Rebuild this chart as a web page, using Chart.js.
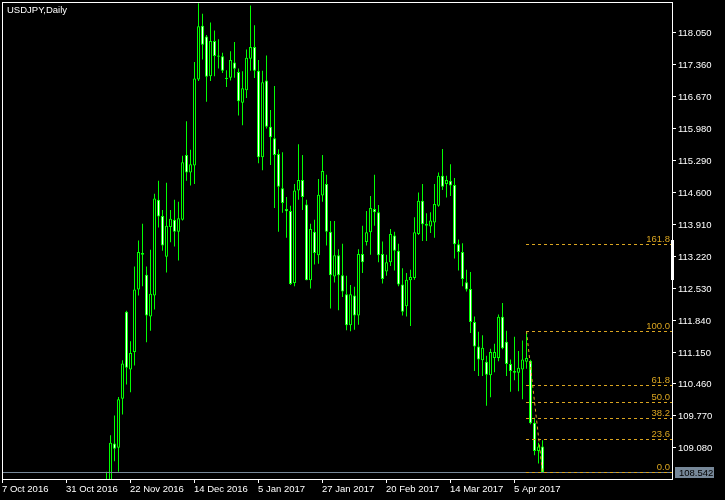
<!DOCTYPE html>
<html>
<head>
<meta charset="utf-8">
<title>USDJPY,Daily</title>
<script src="https://cdn.jsdelivr.net/npm/chart.js@4.4.1/dist/chart.umd.min.js"></script>
<style>
  html, body { margin: 0; padding: 0; background: #000; }
  canvas { display: block; }
</style>
</head>
<body>
<canvas id="chart" width="725" height="500"></canvas>
<script>
// Chart data
const symbolTitle = 'USDJPY,Daily';
const firstBar = 26; // bars counted from 7 Oct 2016; earlier bars sit below the visible range

const openPrices = [
  106.70, 108.30, 109.16, 109.07, 110.13, 112.01, 110.76, 111.14, 112.49, 113.28,
  112.81, 111.91, 112.36, 114.43, 114.08, 113.20, 113.84, 114.00, 113.74, 114.00,
  115.40, 115.02, 115.17, 117.03, 118.19, 117.96, 117.10, 117.86, 117.55, 117.53,
  117.04, 117.07, 117.40, 117.19, 116.53, 116.80, 117.48, 117.73, 117.22, 115.35,
  117.01, 116.01, 115.76, 115.42, 114.68, 114.23, 114.19, 112.63, 114.63, 114.86,
  114.33, 112.69, 113.74, 113.23, 114.52, 114.77, 113.74, 112.77, 113.23, 112.80,
  112.39, 111.72, 112.36, 111.93, 113.26, 113.52, 113.73, 114.23, 114.16, 113.26,
  112.88, 113.08, 113.66, 113.33, 112.60, 112.13, 112.69, 112.74, 113.69, 114.41,
  113.91, 113.85, 113.94, 114.30, 114.95, 114.77, 114.84, 114.75, 113.47, 113.30,
  112.65, 112.50, 111.79, 111.26, 110.96, 110.93, 110.64, 111.01, 111.01, 111.90,
  111.36, 110.88, 110.69, 110.69, 110.76, 110.93, 110.95, 109.61, 109.00, 109.10
];
const highPrices = [
  108.55, 109.34, 109.77, 110.17, 110.96, 112.03, 111.37, 112.99, 113.55, 113.91,
  112.99, 113.35, 114.56, 114.84, 114.21, 114.80, 114.21, 114.43, 114.39, 115.38,
  116.13, 115.51, 117.41, 118.68, 118.45, 117.99, 118.26, 118.09, 117.90, 117.61,
  117.23, 117.64, 117.84, 117.27, 117.21, 117.68, 118.63, 118.20, 117.45, 117.22,
  117.55, 116.37, 116.89, 115.52, 115.46, 114.49, 114.30, 114.77, 115.63, 115.40,
  114.43, 113.91, 114.00, 114.88, 115.40, 114.97, 113.97, 113.97, 113.36, 113.48,
  112.79, 112.59, 112.55, 113.36, 113.87, 114.19, 114.51, 114.97, 114.32, 113.53,
  113.24, 113.80, 113.74, 113.48, 112.95, 112.85, 112.92, 114.05, 114.59, 114.77,
  114.14, 114.16, 114.77, 115.02, 115.53, 114.95, 115.20, 114.90, 113.57, 113.49,
  112.92, 112.87, 111.91, 111.58, 111.50, 111.06, 111.21, 111.32, 111.95, 112.20,
  111.60, 110.98, 111.47, 111.16, 111.39, 111.59, 110.97, 109.72, 109.18, 109.23
];
const lowPrices = [
  106.60, 108.15, 108.78, 108.55, 109.79, 110.44, 110.27, 110.85, 112.36, 112.56,
  111.35, 111.60, 112.06, 113.83, 113.33, 112.86, 113.51, 113.42, 113.12, 113.98,
  114.84, 114.74, 114.77, 117.00, 117.46, 116.55, 117.00, 117.10, 117.27, 117.17,
  116.87, 117.01, 117.07, 116.25, 116.04, 116.63, 117.22, 117.06, 115.22, 115.07,
  115.97, 115.18, 114.25, 113.74, 114.15, 113.61, 112.59, 112.56, 114.43, 114.21,
  112.69, 112.51, 113.03, 113.05, 114.39, 113.44, 112.08, 112.64, 112.04, 112.33,
  111.61, 111.59, 111.62, 111.73, 112.85, 113.44, 113.24, 113.87, 113.08, 112.62,
  112.79, 113.00, 112.90, 112.56, 111.93, 111.91, 111.70, 112.70, 113.67, 113.54,
  113.54, 113.71, 113.61, 114.28, 114.64, 114.48, 114.51, 113.16, 112.90, 112.56,
  112.45, 111.55, 110.73, 110.62, 110.62, 109.98, 110.16, 110.70, 110.94, 111.20,
  110.62, 110.28, 110.53, 110.29, 110.12, 110.78, 109.58, 108.91, 108.73, 108.542
];
const closePrices = [
  108.38, 109.18, 109.05, 110.12, 110.89, 110.80, 111.12, 112.49, 113.30, 113.24,
  111.93, 112.40, 114.46, 114.07, 113.44, 113.87, 114.02, 113.74, 114.03, 115.24,
  115.02, 115.20, 117.05, 118.18, 117.78, 117.09, 117.86, 117.54, 117.52, 117.22,
  117.07, 117.45, 117.26, 116.56, 116.84, 117.50, 117.73, 117.22, 115.35, 116.97,
  116.01, 115.78, 115.40, 114.71, 114.36, 114.18, 112.61, 114.63, 114.86, 114.49,
  112.69, 113.80, 113.28, 114.54, 115.05, 113.74, 112.80, 113.23, 112.80, 112.45,
  111.72, 112.39, 111.93, 113.26, 113.08, 113.73, 114.25, 114.16, 113.23, 112.72,
  113.08, 113.69, 113.33, 112.60, 112.01, 112.70, 112.76, 113.73, 114.41, 113.90,
  113.87, 113.98, 114.34, 114.95, 114.71, 114.86, 114.74, 113.47, 113.30, 112.72,
  112.49, 111.79, 111.26, 110.98, 111.23, 110.65, 111.14, 111.14, 111.90, 111.22,
  110.88, 110.73, 110.73, 110.80, 110.98, 111.01, 109.60, 109.00, 109.10, 108.542
];

const priceTicks = [118.050, 117.360, 116.670, 115.980, 115.290, 114.600, 113.910,
  113.220, 112.530, 111.840, 111.150, 110.460, 109.770, 109.080];
const dateTickBars = [0, 16, 32, 48, 64, 80, 96, 112, 128];
const dateLabels = ['7 Oct 2016', '31 Oct 2016', '22 Nov 2016', '14 Dec 2016', '5 Jan 2017',
  '27 Jan 2017', '20 Feb 2017', '14 Mar 2017', '5 Apr 2017'];

const currentPrice = 108.542;
const fibHighBar = 131;
const fibLowBar = 135;
const fibHigh = 111.59;
const fibLow = 108.542;
const fibLevels = [0, 23.6, 38.2, 50, 61.8, 100, 161.8];

// Colors / fonts
const CANDLE = '#00FF00';
const FIB = '#DAA520';
const PRICE_LINE = '#778899';
const FONT = '9.5px "Liberation Sans", Arial, sans-serif';

const wickData = lowPrices.map((lo, k) => ({ x: firstBar + k, y: [lo, highPrices[k]] }));
const bodyData = openPrices.map((o, k) => ({ x: firstBar + k, y: [o, closePrices[k]] }));
const bodyFill = openPrices.map((o, k) => closePrices[k] < o ? '#FFFFFF' : '#000000');

const mt4Plugin = {
  id: 'mt4',
  beforeDraw(chart) {
    const ctx = chart.ctx;
    ctx.save();
    ctx.fillStyle = '#000';
    ctx.fillRect(0, 0, chart.width, chart.height);
    ctx.restore();
  },
  afterDatasetsDraw(chart) {
    const { ctx, chartArea: a, scales: { x, y } } = chart;
    ctx.save();
    ctx.lineWidth = 1;

    // current price line
    const py = Math.round(y.getPixelForValue(currentPrice)) + 0.5;
    ctx.strokeStyle = PRICE_LINE;
    ctx.beginPath();
    ctx.moveTo(a.left, py);
    ctx.lineTo(a.right, py);
    ctx.stroke();

    // fibonacci retracement
    const fx = Math.floor(x.getPixelForValue(fibHighBar));
    ctx.strokeStyle = FIB;
    ctx.setLineDash([3, 3]);
    ctx.font = FONT;
    ctx.fillStyle = FIB;
    ctx.textAlign = 'right';
    ctx.textBaseline = 'alphabetic';
    fibLevels.forEach(lv => {
      const price = fibLow + (fibHigh - fibLow) * lv / 100;
      const ly = Math.round(y.getPixelForValue(price)) + 0.5;
      ctx.beginPath();
      ctx.moveTo(fx, ly);
      ctx.lineTo(a.right, ly);
      ctx.stroke();
      ctx.fillText(lv.toFixed(1), a.right - 2, ly - 3);
    });
    ctx.beginPath();
    ctx.moveTo(fx + 0.5, y.getPixelForValue(fibHigh));
    ctx.lineTo(x.getPixelForValue(fibLowBar), y.getPixelForValue(fibLow));
    ctx.stroke();
    ctx.restore();
  },
  afterDraw(chart) {
    const { ctx, chartArea: a, scales: { x, y } } = chart;
    ctx.save();
    ctx.strokeStyle = '#FFFFFF';
    ctx.fillStyle = '#FFFFFF';
    ctx.lineWidth = 1;

    // frame
    ctx.strokeRect(a.left + 0.5, a.top + 0.5, a.right - a.left, a.bottom - a.top);
    ctx.fillRect(a.right - 1, 240, 3, 40);

    ctx.font = FONT;
    ctx.textBaseline = 'alphabetic';

    // price axis
    ctx.textAlign = 'left';
    priceTicks.forEach(p => {
      const ty = Math.round(y.getPixelForValue(p));
      ctx.beginPath();
      ctx.moveTo(a.right, ty + 0.5);
      ctx.lineTo(a.right + 4, ty + 0.5);
      ctx.stroke();
      ctx.fillText(p.toFixed(3), a.right + 6, ty + 4);
    });

    // time axis
    dateTickBars.forEach((b, k) => {
      const tx = Math.floor(x.getPixelForValue(b)) + 0.5;
      ctx.beginPath();
      ctx.moveTo(tx, a.bottom);
      ctx.lineTo(tx, a.bottom + 4);
      ctx.stroke();
      ctx.fillText(dateLabels[k], tx - 0.5, a.bottom + 13);
    });

    // title
    ctx.fillText(symbolTitle, 7, 13);

    // current price label
    const cy = Math.round(y.getPixelForValue(currentPrice));
    ctx.fillStyle = PRICE_LINE;
    ctx.fillRect(a.right + 3, cy - 5, 39, 11);
    ctx.fillStyle = '#000000';
    ctx.fillText(currentPrice.toFixed(3), a.right + 7, cy + 4);
    ctx.restore();
  }
};

new Chart(document.getElementById('chart'), {
  type: 'bar',
  data: {
    datasets: [
      {
        label: 'body',
        data: bodyData,
        backgroundColor: bodyFill,
        borderColor: CANDLE,
        borderWidth: 1,
        borderSkipped: false,
        inflateAmount: 0,
        barThickness: 3,
        minBarLength: 1,
        grouped: false,
        order: 0
      },
      {
        label: 'wick',
        data: wickData,
        backgroundColor: CANDLE,
        borderWidth: 0,
        inflateAmount: 0,
        barThickness: 1,
        grouped: false,
        order: 1
      }
    ]
  },
  options: {
    responsive: false,
    animation: false,
    events: [],
    layout: { padding: { left: 2, top: 2, right: 53, bottom: 21 } },
    scales: {
      x: { type: 'linear', min: -0.125, max: 167.375, offset: false, display: false },
      y: { type: 'linear', min: 108.395, max: 118.705, display: false }
    },
    plugins: {
      legend: { display: false },
      tooltip: { enabled: false }
    }
  },
  plugins: [mt4Plugin]
});
</script>
</body>
</html>
